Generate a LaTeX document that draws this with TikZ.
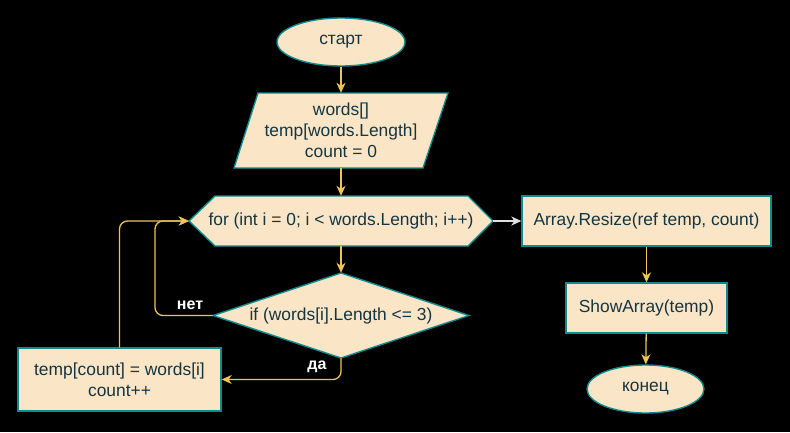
\documentclass[tikz,border=0pt]{standalone}
\usepackage{fontspec}
\setmainfont{Liberation Sans}
\usetikzlibrary{shapes.geometric,arrows.meta}
\definecolor{fillc}{HTML}{FAE5C7}
\definecolor{edgec}{HTML}{0F8B8D}
\definecolor{textc}{HTML}{143642}
\definecolor{arrc}{HTML}{EEC555}
\definecolor{arrw}{HTML}{E0E0E0}
\begin{document}
\begin{tikzpicture}[x=1pt,y=-1pt,
  shapebox/.style={draw=edgec, fill=fillc, line width=1.4pt},
  txt/.style={text=textc, inner sep=0pt, align=center, font=\fontsize{17.4}{21}\selectfont},
  base/.style={shapebox, txt},
  term/.style={base, ellipse},
  proc/.style={base, rectangle},
  anch/.style={txt, rectangle},
  flow/.style={draw=arrc, line width=1.3pt, rounded corners=8pt, -{Stealth[length=10pt,width=9pt,inset=3pt]}},
  lbl/.style={text=white, inner sep=0pt, font=\bfseries\fontsize{16}{18}\selectfont}
]
\fill[black] (0,0) rectangle (790,432);
\useasboundingbox (0,0) rectangle (790,432);

\node[term, minimum width=128pt, minimum height=48pt] (start) at (341,42) {старт};

\draw[shapebox] (258,93) -- (448,93) -- (423,168) -- (234,168) -- cycle;
\node[anch, minimum width=190pt, minimum height=75pt] (init) at (341,130.5) {words[]\\temp[words.Length]\\count = 0};

\draw[shapebox] (189,221) -- (215,196) -- (468,196) -- (493,221) -- (468,246) -- (215,246) -- cycle;
\node[anch, minimum width=304pt, minimum height=50pt] (loop) at (341,221) {for (int i = 0; i < words.Length; i++)};

\draw[shapebox] (213,315.5) -- (341,273) -- (469,315.5) -- (341,358) -- cycle;
\node[anch, minimum width=256pt, minimum height=85pt] (cond) at (341,315.5) {if (words[i].Length <= 3)};

\node[proc, minimum width=203pt, minimum height=63pt] (body) at (119.5,379.5) {temp[count] = words[i]\\count++};
\node[proc, minimum width=249pt, minimum height=50pt] (resize) at (646.5,221) {Array.Resize(ref temp, count)};
\node[proc, minimum width=161pt, minimum height=50pt] (show) at (646.5,308) {ShowArray(temp)};
\node[term, minimum width=117pt, minimum height=48pt] (end) at (645.5,389) {конец};

\coordinate (nocorner) at (155,315.5);

\draw[flow] (start) -- (init);
\draw[flow] (init) -- (loop);
\draw[flow] (loop) -- (cond);
\draw[flow] (cond.west) -- (nocorner) |- (loop.west);
\draw[flow] (body.north) |- (loop.west);
\draw[flow] (cond.south) |- (body.east);
\draw[flow, draw=arrw] (loop.east) -- (resize.west);
\draw[flow] (resize) -- (show);
\draw[flow] (show) -- (end);

\node[lbl] (nolbl) at (190,305) {нет};
\node[lbl] (yeslbl) at (317,367) {да};
\end{tikzpicture}
\end{document}
